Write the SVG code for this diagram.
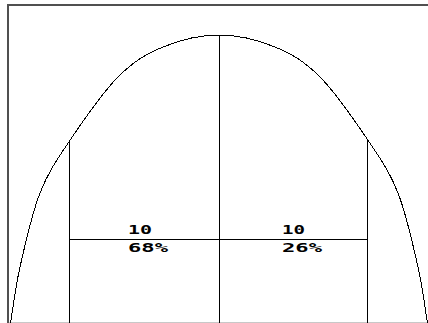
<svg xmlns="http://www.w3.org/2000/svg" width="428" height="323" viewBox="0 0 428 323">
<style>
.ln{stroke:#000;stroke-width:1;fill:none}
.crv{shape-rendering:crispEdges}
.lbl{font-family:"DejaVu Sans Mono","Liberation Mono",monospace;font-weight:bold;font-size:12.5px;fill:#000}
</style>
<rect x="0" y="0" width="428" height="323" fill="#fff"/>
<g id="frame">
<rect x="7" y="4" width="421" height="2" fill="#505050"/>
<rect x="7" y="4" width="2" height="319" fill="#505050"/>
<rect x="9" y="322" width="419" height="1" fill="#c8c8c8"/>
</g>
<g id="curve">
<path class="ln crv" d="M10.5,323 C13.67,304.33 15.08,288.67 20,267 C24.92,245.33 31.75,214 40,193 C48.25,172 56.5,160.33 69.5,141 C82.5,121.67 102.42,92.67 118,77 C133.58,61.33 146.08,54 163,47 C179.92,40 200.17,35 219,35 C237.83,35 258.08,40 275,47 C291.92,54 304.42,61.33 320,77 C335.58,92.67 355.5,121.67 368.5,141 C381.5,160.33 389.75,172 398,193 C406.25,214 413.08,245.33 418,267 C422.92,288.67 424.33,304.33 427.5,323"/>
</g>
<g id="connectors">
<line class="ln" x1="69.5" y1="141" x2="69.5" y2="323"/>
<line class="ln" x1="219.5" y1="35" x2="219.5" y2="323"/>
<line class="ln" x1="367.5" y1="139" x2="367.5" y2="323"/>
<line class="ln" x1="69.5" y1="239.5" x2="367.5" y2="239.5"/>
</g>
<g id="left-region">
<text class="lbl" x="128" y="234" textLength="24" lengthAdjust="spacingAndGlyphs">10</text>
<text class="lbl" x="128" y="252" textLength="40" lengthAdjust="spacingAndGlyphs">68%</text>
</g>
<g id="right-region">
<text class="lbl" x="282" y="234" textLength="23" lengthAdjust="spacingAndGlyphs">10</text>
<text class="lbl" x="282" y="252" textLength="40" lengthAdjust="spacingAndGlyphs">26%</text>
</g>
</svg>
